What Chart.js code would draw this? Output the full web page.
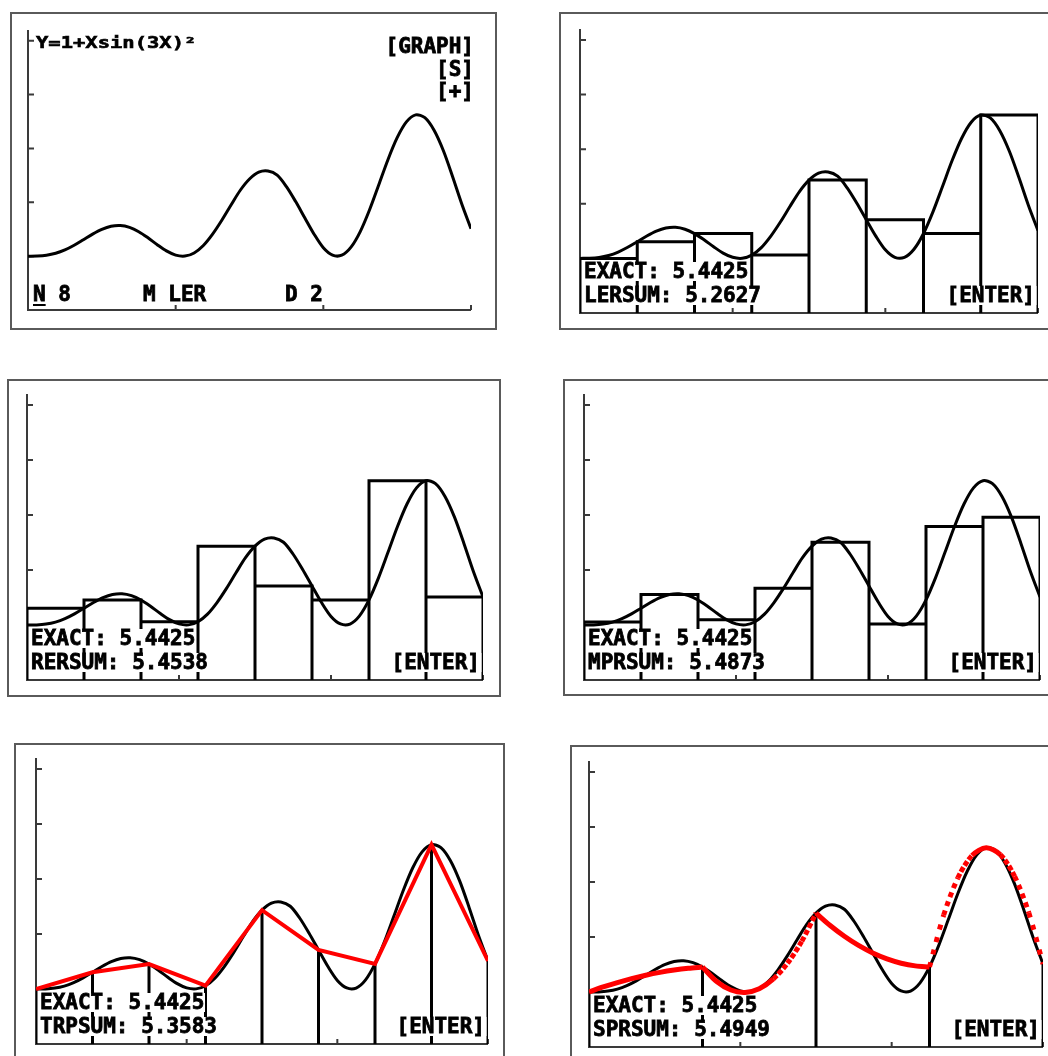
<!DOCTYPE html>
<html>
<head>
<meta charset="utf-8">
<title>Riemann sums of Y=1+Xsin(3X)^2</title>
<script src="https://cdn.jsdelivr.net/npm/chart.js@4.4.1/dist/chart.umd.min.js"></script>
<style>
  html, body { margin: 0; padding: 0; background: #fff; }
  body {
    position: relative; width: 1048px; height: 1056px; overflow: hidden;
    font-family: "DejaVu Sans Mono", monospace; font-weight: bold; color: #000;
  }
  .screen { position: absolute; box-sizing: border-box; border: 2px solid #5a5a5a; background: #fff; }
  canvas { position: absolute; }
  .t { position: absolute; font-size: 21px; line-height: 19px; height: 19px; white-space: pre; -webkit-text-stroke: 0.8px #000; }
  .t span { display: inline-block; height: 19px; line-height: 19px; background: #fff; padding: 0 1px 0 2px; }
  .t.r { transform: translateX(-100%); }
  .t.small { font-size: 16px; line-height: 15px; transform-origin: left top; transform: scaleX(1.28); -webkit-text-stroke: 0.6px #000; }
  .t.small span { height: 15px; line-height: 15px; padding: 0; background: transparent; }
  .t u { text-decoration-thickness: 2px; text-underline-offset: 3px; }
</style>
</head>
<body>
<script>
// values shown on the screens
const titleText = "Y=1+Xsin(3X)²";
const exactValue = "5.4425";
const sumLabels = ["LERSUM", "RERSUM", "MPRSUM", "TRPSUM", "SPRSUM"];
const sumValues = ["5.2627", "5.4538", "5.4873", "5.3583", "5.4949"];

// axis ticks
const xTicks = [1, 2, 3];
const yTicks = [1, 2, 3, 4, 5];
const yMax = 5.2;

// the curve, sampled
const curveX = [0, 0.0625, 0.125, 0.1875, 0.25, 0.3125, 0.375, 0.4375, 0.5, 0.5625, 0.625, 0.6875,
  0.75, 0.8125, 0.875, 0.9375, 1, 1.0625, 1.125, 1.1875, 1.25, 1.3125, 1.375, 1.4375,
  1.5, 1.5625, 1.625, 1.6875, 1.75, 1.8125, 1.875, 1.9375, 2, 2.0625, 2.125, 2.1875,
  2.25, 2.3125, 2.375, 2.4375, 2.5, 2.5625, 2.625, 2.6875, 2.75, 2.8125, 2.875, 2.9375, 3];
const curveY = [1, 1.0022, 1.0168, 1.0533, 1.1162, 1.2031, 1.3053, 1.409, 1.4975, 1.555, 1.5688, 1.5343,
  1.4541, 1.3403, 1.2134, 1.0973, 1.0199, 1.0022, 1.0598, 1.1977, 1.4084, 1.6661, 1.9497, 2.2239,
  2.4333, 2.5606, 2.5824, 2.5044, 2.291, 2.0133, 1.7092, 1.4082, 1.1561, 1.0188, 1.0179, 1.1663,
  1.4556, 1.8563, 2.321, 2.7911, 3.1996, 3.4929, 3.624, 3.5711, 3.3373, 2.9609, 2.4792, 1.9689, 1.5095];

// N = 8 subintervals on [0, 3]
const edges = [0, 0.375, 0.75, 1.125, 1.5, 1.875, 2.25, 2.625, 3];
const nodeValues = [1, 1.3053, 1.4541, 1.0598, 2.4333, 1.7092, 1.4556, 3.624, 1.5095];
const leftHeights = [1, 1.3053, 1.4541, 1.0598, 2.4333, 1.7092, 1.4556, 3.624];
const rightHeights = [1.3053, 1.4541, 1.0598, 2.4333, 1.7092, 1.4556, 3.624, 1.5095];
const midHeights = [1.0533, 1.555, 1.0973, 1.6661, 2.5044, 1.0188, 2.7911, 2.9609];

// Simpson parabolas, sampled
const simpsonBreaks = [0, 0.75, 1.5, 2.25, 3];
const simpsonX = [0, 0.09375, 0.1875, 0.28125, 0.375, 0.46875, 0.5625, 0.65625, 0.75,
  0.84375, 0.9375, 1.03125, 1.125, 1.21875, 1.3125, 1.40625, 1.5,
  1.59375, 1.6875, 1.78125, 1.875, 1.96875, 2.0625, 2.15625, 2.25,
  2.34375, 2.4375, 2.53125, 2.625, 2.71875, 2.8125, 2.90625, 3];
const simpsonY = [1, 1.091, 1.1722, 1.2437, 1.3053, 1.3572, 1.3993, 1.4316, 1.4541,
  1.1898, 1.036, 0.9927, 1.0598, 1.2374, 1.5255, 1.9242, 2.4333,
  2.2082, 2.0124, 1.8461, 1.7092, 1.6017, 1.5236, 1.4749, 1.4556,
  2.3992, 3.0752, 3.4834, 3.624, 3.4969, 3.1021, 2.4396, 1.5095];

// calculator axes with small tick marks
const calcAxes = {
  id: "calcAxes",
  beforeDatasetsDraw(chart) {
    const { ctx, scales: { x, y } } = chart;
    const px0 = x.getPixelForValue(0);
    const py0 = y.getPixelForValue(0);
    ctx.save();
    ctx.strokeStyle = "#3a3a3a";
    ctx.lineWidth = 2;
    ctx.beginPath();
    ctx.moveTo(px0, y.getPixelForValue(yMax));
    ctx.lineTo(px0, py0);
    ctx.lineTo(x.getPixelForValue(3), py0);
    yTicks.forEach(v => {
      const p = y.getPixelForValue(v);
      ctx.moveTo(px0, p);
      ctx.lineTo(px0 + 6, p);
    });
    xTicks.forEach(v => {
      const p = x.getPixelForValue(v);
      ctx.moveTo(p, py0);
      ctx.lineTo(p, py0 - 5);
    });
    ctx.stroke();
    ctx.restore();
  }
};

function pts(xs, ys) {
  return xs.map((x, i) => ({ x: x, y: ys[i] }));
}

function rectOutline(heights) {
  const out = [];
  heights.forEach((h, i) => {
    out.push({ x: edges[i], y: 0 }, { x: edges[i], y: h }, { x: edges[i + 1], y: h }, { x: edges[i + 1], y: 0 });
  });
  return out;
}

function verticals(xs) {
  const out = [];
  xs.forEach(x => {
    out.push({ x: x, y: 0 }, { x: x, y: nodeValues[edges.indexOf(x)] }, { x: x, y: null });
  });
  return out;
}

const curveSet = {
  data: pts(curveX, curveY), borderColor: "#000", borderWidth: 3, tension: 0.3
};

function blackLines(data) {
  return { data: data, borderColor: "#000", borderWidth: 3, tension: 0, spanGaps: false };
}

function simpsonSets() {
  const sets = [];
  for (let k = 0; k < simpsonBreaks.length - 1; k++) {
    const a = simpsonBreaks[k], b = simpsonBreaks[k + 1];
    const data = pts(simpsonX, simpsonY).filter(p => p.x >= a && p.x <= b);
    sets.push({
      data: data, borderColor: "#ff0000", borderWidth: 5, tension: 0.3, borderCapStyle: "butt",
      segment: {
        borderDash: ctx => {
          const dx = Math.abs(ctx.p1.x - ctx.p0.x);
          const dy = Math.abs(ctx.p1.y - ctx.p0.y);
          const slope = dy / Math.max(dx, 0.01);
          if (slope < 1.1) return undefined;
          return [5, Math.max(2, 3.4 * Math.sqrt(1 + slope * slope) - 5)];
        }
      }
    });
  }
  return sets;
}

const screens = [
  { box: [10, 12, 487, 318], x0: 28, x3: 471, y0: 310, y5: 41 },
  { box: [559, 12, 495, 318], x0: 580, x3: 1038, y0: 313, y5: 40 },
  { box: [7, 379, 494, 318], x0: 27, x3: 483, y0: 680, y5: 405 },
  { box: [563, 379, 495, 317], x0: 584, x3: 1040, y0: 680, y5: 405 },
  { box: [14, 743, 491, 320], x0: 36, x3: 488, y0: 1044, y5: 769 },
  { box: [570, 745, 490, 320], x0: 589, x3: 1043, y0: 1047, y5: 772 }
];

const screenSets = [
  [curveSet],
  [curveSet, blackLines(rectOutline(leftHeights))],
  [curveSet, blackLines(rectOutline(rightHeights))],
  [curveSet, blackLines(rectOutline(midHeights))],
  [{ data: pts(edges, nodeValues), borderColor: "#ff0000", borderWidth: 4, tension: 0 },
    curveSet, blackLines(verticals(edges))],
  simpsonSets().concat([curveSet, blackLines(verticals(simpsonBreaks))])
];

function addText(str, x, capTop, cls) {
  const d = document.createElement("div");
  d.className = "t" + (cls ? " " + cls : "");
  d.style.left = x + "px";
  d.style.top = (capTop - 2) + "px";
  const sp = document.createElement("span");
  sp.textContent = str;
  d.appendChild(sp);
  document.body.appendChild(d);
  return sp;
}

function makeScreen(s, datasets) {
  const box = document.createElement("div");
  box.className = "screen";
  box.style.left = s.box[0] + "px";
  box.style.top = s.box[1] + "px";
  box.style.width = s.box[2] + "px";
  box.style.height = s.box[3] + "px";
  document.body.appendChild(box);

  const pad = 12;
  const ky = (s.y0 - s.y5) / 5;
  const w = Math.round(s.x3 - s.x0 + 2 * pad);
  const h = Math.round(yMax * ky + 2 * pad);
  const canvas = document.createElement("canvas");
  canvas.width = w;
  canvas.height = h;
  canvas.style.width = w + "px";
  canvas.style.height = h + "px";
  canvas.style.left = (s.x0 - pad) + "px";
  canvas.style.top = (s.y0 + pad - h) + "px";
  document.body.appendChild(canvas);

  new Chart(canvas, {
    type: "line",
    data: { datasets: datasets },
    options: {
      responsive: false,
      animation: false,
      devicePixelRatio: 1,
      events: [],
      layout: { padding: pad },
      elements: { point: { radius: 0 } },
      plugins: { legend: { display: false }, tooltip: { enabled: false } },
      scales: {
        x: { type: "linear", min: 0, max: 3, display: false },
        y: { type: "linear", min: 0, max: yMax, display: false }
      }
    },
    plugins: [calcAxes]
  });
}

screens.forEach((s, i) => makeScreen(s, screenSets[i]));

// first screen: function and menu
const s1 = screens[0];
addText(titleText, s1.x0 + 8, 37, "small");
addText("[GRAPH]", s1.x3 + 4, 39, "r");
addText("[S]", s1.x3 + 4, 62, "r");
addText("[+]", s1.x3 + 4, 84, "r");
const nSpan = addText("", s1.x0 + 3, 287);
nSpan.innerHTML = "<u>N</u> 8";
addText("M LER", 141, 287);
addText("D 2", 283, 287);

// result screens
screens.slice(1).forEach((s, i) => {
  addText("EXACT: " + exactValue, s.x0 + 2, s.y0 - 49);
  addText(sumLabels[i] + ": " + sumValues[i], s.x0 + 2, s.y0 - 25);
  addText("[ENTER]", s.x3 - 2, s.y0 - 25, "r");
});
</script>
</body>
</html>
